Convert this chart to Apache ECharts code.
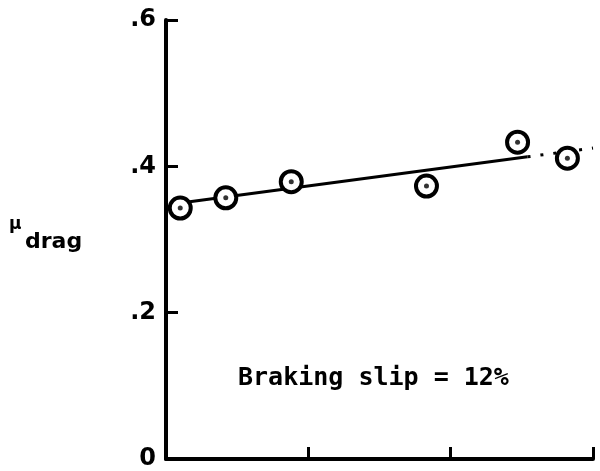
<!DOCTYPE html>
<html>
<head>
<meta charset="utf-8">
<script src="https://cdn.jsdelivr.net/npm/echarts@6/dist/echarts.min.js"></script>
<style>html,body{margin:0;padding:0;background:#fff;}#c{width:600px;height:471px;}</style>
</head>
<body>
<div id="c"></div>
<script>
// Data
const xValues = [0.10, 0.42, 0.88, 1.83, 2.47, 2.82];
const muDrag = [0.343, 0.357, 0.379, 0.373, 0.433, 0.411];
const fitSolid = [[0.10, 0.350], [2.54, 0.413]];
const fitDashed = [[2.54, 0.413], [3.0, 0.425]];
const yTickLabels = ['0', '.2', '.4', '.6'];
const annotation = 'Braking slip = 12%';

const points = xValues.map((x, i) => [x, muDrag[i]]);

const chart = echarts.init(document.getElementById('c'));
chart.setOption({
  animation: false,
  backgroundColor: '#fff',
  grid: { left: 166, right: 7, top: 20, bottom: 9 },
  xAxis: {
    type: 'value', min: 0, max: 3, interval: 1,
    axisLine: { show: true, lineStyle: { color: '#000', width: 4 } },
    axisTick: { show: true, inside: true, length: 12, lineStyle: { color: '#000', width: 3 } },
    axisLabel: { show: false },
    splitLine: { show: false }
  },
  yAxis: {
    type: 'value', min: 0, max: 0.6, interval: 0.2,
    axisLine: { show: true, lineStyle: { color: '#000', width: 4 } },
    axisTick: { show: true, inside: true, length: 12, lineStyle: { color: '#000', width: 3 } },
    axisLabel: {
      margin: 10, color: '#000', fontFamily: 'DejaVu Sans', fontWeight: 'bold', fontSize: 24,
      formatter: (v, i) => yTickLabels[i]
    },
    splitLine: { show: false }
  },
  graphic: [
    { type: 'text', left: 238, top: 366, style: { text: annotation, fill: '#000', font: 'bold 25px "DejaVu Sans Mono"' } },
    { type: 'text', left: 9, top: 216, style: { text: 'μ', fill: '#000', font: 'bold 17px "DejaVu Sans"' } },
    { type: 'text', left: 25, top: 231, style: { text: 'drag', fill: '#000', font: 'bold 22px "DejaVu Sans"' } }
  ],
  series: [
    { type: 'line', data: fitSolid, symbol: 'none', lineStyle: { color: '#000', width: 3 }, z: 2 },
    { type: 'line', data: fitDashed, symbol: 'none', lineStyle: { color: '#000', width: 3, type: [3, 10] }, z: 2 },
    { type: 'scatter', data: points, symbol: 'circle', symbolSize: 21,
      itemStyle: { color: '#fff', borderColor: '#000', borderWidth: 4, opacity: 1 }, z: 3 },
    { type: 'scatter', data: points, symbol: 'circle', symbolSize: 5,
      itemStyle: { color: '#000' }, z: 4 }
  ]
});
</script>
</body>
</html>
